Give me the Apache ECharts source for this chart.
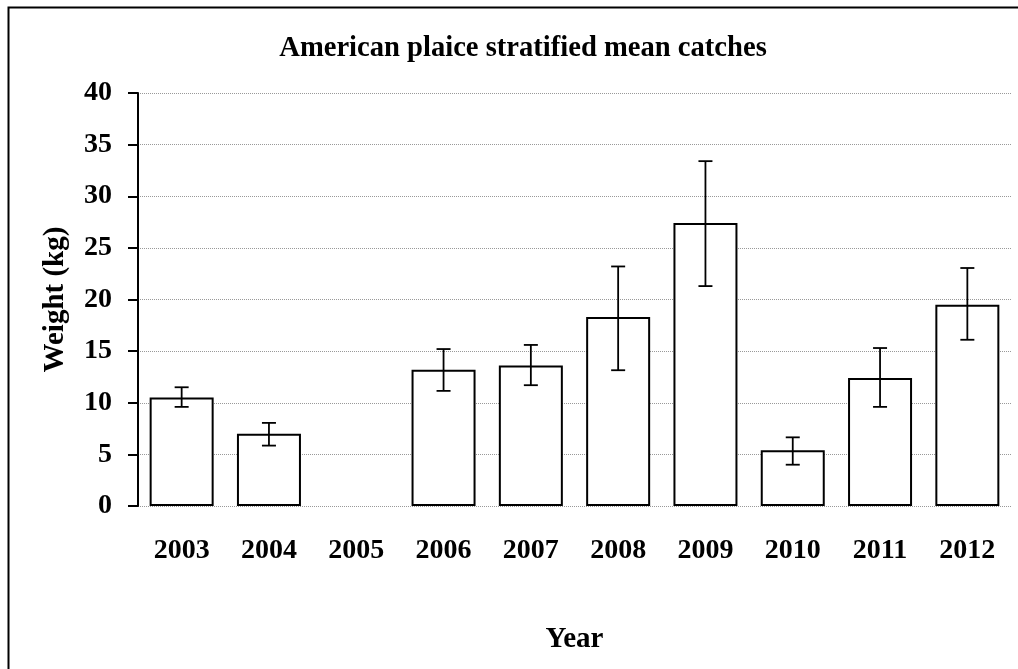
<!DOCTYPE html>
<html>
<head>
<meta charset="utf-8">
<script src="https://cdn.jsdelivr.net/npm/echarts@6/dist/echarts.min.js"></script>
<style>
html,body{margin:0;padding:0;background:#fff;}
#chart{width:1018px;height:669px;}
</style>
</head>
<body>
<div id="chart"></div>
<script>
var categories = ['2003','2004','2005','2006','2007','2008','2009','2010','2011','2012'];
var meanWeight = [10.5, 7.0, null, 13.2, 13.6, 18.3, 27.4, 5.4, 12.4, 19.5];
var errLow  = [9.6, 5.85, null, 11.15, 11.7, 13.15, 21.3, 4.0, 9.6, 16.1];
var errHigh = [11.5, 8.05, null, 15.2, 15.6, 23.2, 33.4, 6.65, 15.3, 23.05];
var yTicks = [0, 5, 10, 15, 20, 25, 30, 35, 40];

var FONT = "'Liberation Serif','Times New Roman',serif";
var errData = categories.map(function (c, i) {
  return errLow[i] == null ? [i, '-', '-'] : [i, errLow[i], errHigh[i]];
});

var chart = echarts.init(document.getElementById('chart'));
chart.setOption({
  backgroundColor: '#fff',
  animation: false,
  graphic: [{
    type: 'rect', left: 6, top: 5, silent: true,
    shape: { width: 2000, height: 2000 },
    style: { fill: 'none', stroke: '#000', lineWidth: 2 }
  }],
  title: {
    text: 'American plaice stratified mean catches',
    left: 518, top: 29, textAlign: 'center',
    textStyle: { fontFamily: FONT, fontWeight: 'bold', fontSize: 28.6, color: '#000' }
  },
  grid: { left: 138, top: 93, right: 7, bottom: 163 },
  xAxis: {
    type: 'category', data: categories,
    name: 'Year', nameLocation: 'middle', nameGap: 119,
    nameTextStyle: { fontFamily: FONT, fontWeight: 'bold', fontSize: 29, color: '#000' },
    axisLine: { show: false }, axisTick: { show: false },
    axisLabel: { fontFamily: FONT, fontWeight: 'bold', fontSize: 28, color: '#000', margin: 31 }
  },
  yAxis: {
    type: 'value', min: yTicks[0], max: yTicks[yTicks.length - 1], interval: 5,
    name: 'Weight (kg)', nameLocation: 'middle', nameGap: 68,
    nameTextStyle: { fontFamily: FONT, fontWeight: 'bold', fontSize: 29, color: '#000' },
    axisLine: { show: true, lineStyle: { color: '#000', width: 2 } },
    axisTick: { show: true, length: 10, lineStyle: { color: '#000', width: 2 } },
    axisLabel: { fontFamily: FONT, fontWeight: 'bold', fontSize: 28, color: '#000', margin: 26 },
    splitLine: { show: true, lineStyle: { color: '#999', type: 'dotted', width: 1 } }
  },
  series: [{
    type: 'bar', data: meanWeight, barWidth: 64,
    itemStyle: { color: '#fff', borderColor: '#000', borderWidth: 2 },
    z: 2
  }, {
    type: 'custom', data: errData, z: 3,
    renderItem: function (params, api) {
      if (api.value(1) === '-' || isNaN(api.value(1))) return;
      var lo = api.coord([api.value(0), api.value(1)]);
      var hi = api.coord([api.value(0), api.value(2)]);
      var hw = 7;
      var st = { stroke: '#000', lineWidth: 1.8 };
      return {
        type: 'group',
        children: [
          { type: 'line', shape: { x1: hi[0], y1: hi[1], x2: lo[0], y2: lo[1] }, style: st },
          { type: 'line', shape: { x1: hi[0] - hw, y1: hi[1], x2: hi[0] + hw, y2: hi[1] }, style: st },
          { type: 'line', shape: { x1: lo[0] - hw, y1: lo[1], x2: lo[0] + hw, y2: lo[1] }, style: st }
        ]
      };
    }
  }]
});
</script>
</body>
</html>
